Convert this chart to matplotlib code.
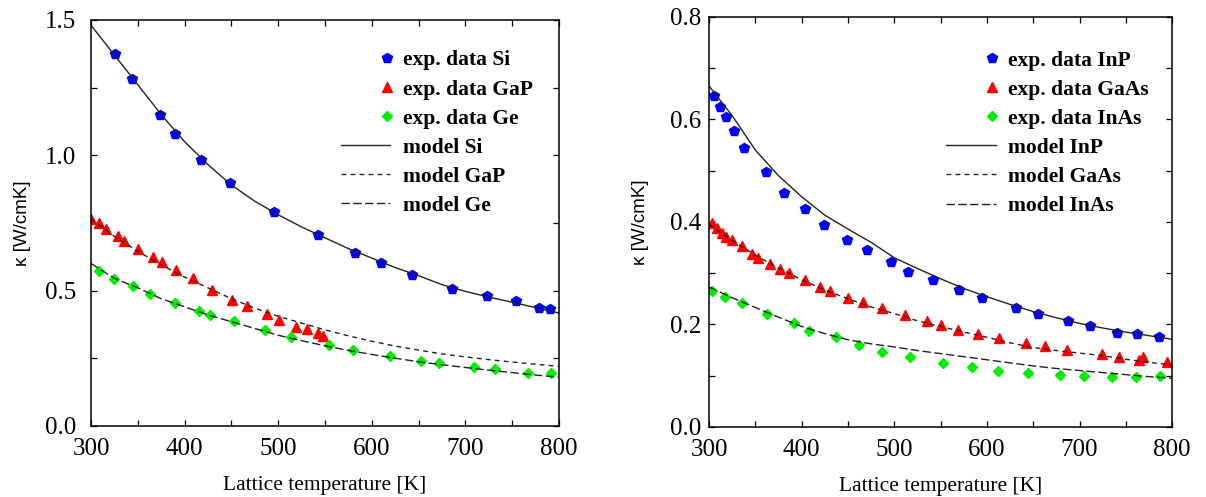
import numpy as np
import matplotlib.pyplot as plt
from matplotlib.legend_handler import HandlerLine2D
from matplotlib.ticker import MultipleLocator

plt.rcParams['font.family'] = 'serif'
plt.rcParams['font.serif'] = ['Liberation Serif', 'DejaVu Serif']

# ---- left panel: Si, GaP, Ge ----
si_T = [326, 344, 374, 390, 418, 449, 496, 542, 582, 610, 643, 686, 723, 754, 779, 790]
si_k = [1.374, 1.281, 1.150, 1.079, 0.984, 0.897, 0.790, 0.707, 0.640, 0.601, 0.556,
        0.504, 0.481, 0.460, 0.436, 0.433]

gap_T = [300, 308, 316, 329, 335, 350, 366, 376, 391, 409, 429, 451, 467, 488, 501,
         519, 531, 542, 548]
gap_k = [0.764, 0.749, 0.728, 0.703, 0.683, 0.654, 0.625, 0.607, 0.576, 0.548, 0.502,
         0.465, 0.443, 0.414, 0.392, 0.367, 0.357, 0.345, 0.332]

ge_T = [309, 325, 345, 363, 390, 415, 427, 453, 486, 514, 554, 580, 619, 653, 672,
        709, 732, 767, 792]
ge_k = [0.574, 0.543, 0.517, 0.488, 0.453, 0.425, 0.410, 0.388, 0.355, 0.330, 0.299,
        0.281, 0.260, 0.241, 0.234, 0.219, 0.209, 0.195, 0.194]

# ---- right panel: InP, GaAs, InAs ----
inp_T = [305, 312, 318, 327, 338, 361, 381, 403, 424, 449, 470, 496, 515, 542, 570,
         595, 631, 655, 687, 711, 740, 762, 786]
inp_k = [0.645, 0.625, 0.604, 0.578, 0.544, 0.497, 0.457, 0.425, 0.394, 0.365, 0.345,
         0.321, 0.303, 0.287, 0.267, 0.251, 0.233, 0.220, 0.207, 0.197, 0.184, 0.181,
         0.176]

gaas_T = [303, 309, 314, 318, 325, 335, 346, 353, 366, 377, 386, 403, 420, 431, 450,
          466, 487, 512, 535, 550, 569, 590, 613, 642, 663, 686, 724, 743, 764, 768,
          794]
gaas_k = [0.397, 0.388, 0.378, 0.370, 0.364, 0.353, 0.338, 0.329, 0.317, 0.308, 0.300,
          0.286, 0.273, 0.265, 0.251, 0.243, 0.232, 0.219, 0.206, 0.198, 0.189, 0.181,
          0.174, 0.163, 0.157, 0.150, 0.142, 0.137, 0.131, 0.137, 0.126]

inas_T = [303, 317, 335, 363, 392, 408, 437, 462, 487, 517, 552, 584, 612, 644, 679,
          705, 735, 761, 787]
inas_k = [0.266, 0.254, 0.241, 0.221, 0.202, 0.188, 0.175, 0.159, 0.146, 0.136, 0.124,
          0.116, 0.110, 0.106, 0.101, 0.0995, 0.097, 0.098, 0.0995]

model_T = [300, 325, 350, 375, 400, 425, 450, 475, 500, 525, 550, 575, 600, 625, 650,
           675, 700, 725, 750, 775, 800]
si_model = [1.48, 1.37, 1.26, 1.15, 1.05, 0.965, 0.89, 0.83, 0.78, 0.735, 0.695, 0.655,
            0.62, 0.585, 0.555, 0.522, 0.497, 0.476, 0.457, 0.437, 0.417]
gap_model = [0.765, 0.70, 0.645, 0.595, 0.55, 0.51, 0.47, 0.435, 0.405, 0.38, 0.355,
             0.333, 0.313, 0.295, 0.28, 0.266, 0.255, 0.245, 0.236, 0.228, 0.22]
ge_model = [0.60, 0.545, 0.51, 0.47, 0.44, 0.41, 0.385, 0.36, 0.335, 0.315, 0.296,
            0.279, 0.264, 0.25, 0.237, 0.226, 0.216, 0.206, 0.197, 0.188, 0.18]
inp_model = [0.665, 0.607, 0.54, 0.49, 0.449, 0.413, 0.386, 0.36, 0.33, 0.309, 0.289,
             0.27, 0.254, 0.239, 0.225, 0.213, 0.202, 0.193, 0.185, 0.178, 0.171]
gaas_model = [0.395, 0.364, 0.335, 0.31, 0.287, 0.267, 0.25, 0.234, 0.221, 0.207,
              0.196, 0.185, 0.175, 0.164, 0.155, 0.149, 0.144, 0.139, 0.132, 0.126,
              0.121]
inas_model = [0.273, 0.252, 0.233, 0.214, 0.196, 0.182, 0.170, 0.162, 0.156, 0.149,
              0.143, 0.137, 0.131, 0.125, 0.119, 0.114, 0.110, 0.106, 0.102, 0.098,
              0.095]


class MarkerAtEnd(HandlerLine2D):
    # gnuplot style: symbol sits at the right end of the key sample
    def get_xdata(self, legend, xdescent, ydescent, width, height, fontsize):
        x = np.array([-xdescent + width - 0.15 * fontsize])
        return x, x


def panel(ax, exp_sets, model_sets, ymax, ymaj, legend_anchor, ypad, ylabpad):
    colors = ['#0000ff', '#ff0000', '#00ee00']
    markers = ['p', '^', 'D']
    sizes = [7.5, 7, 5.5]
    for (T, k, name), c, m, s in zip(exp_sets, colors, markers, sizes):
        ax.plot(T, k, ls='none', marker=m, ms=s, color=c, mec=c,
                label='exp. data ' + name)
    styles = ['-', (0, (3.5, 3)), (0, (6, 2.5))]
    for (k, name), ls in zip(model_sets, styles):
        ax.plot(model_T, k, ls=ls, color='#222222', lw=1.0, label='model ' + name)

    ax.set_xlim(300, 800)
    ax.set_ylim(0, ymax)
    ax.xaxis.set_major_locator(MultipleLocator(100))
    ax.xaxis.set_minor_locator(MultipleLocator(50))
    ax.yaxis.set_major_locator(MultipleLocator(ymaj))
    ax.yaxis.set_minor_locator(MultipleLocator(ymaj / 2))
    ax.tick_params(which='both', direction='in', top=True, right=True,
                   length=4, width=0.9, labelsize=18)
    ax.tick_params(axis='x', pad=9)
    ax.tick_params(axis='y', pad=ypad)
    for sp in ax.spines.values():
        sp.set_linewidth(1.1)
    ax.yaxis.set_major_formatter(plt.FormatStrFormatter('%.1f'))
    ax.set_xlabel('Lattice temperature [K]', fontsize=15.5, labelpad=11)
    ax.set_ylabel('κ [W/cmK]', fontsize=13.5, family='Liberation Sans',
                  labelpad=ylabpad)

    handles, labels = ax.get_legend_handles_labels()
    hm = {h: MarkerAtEnd() for h in handles[:3]}
    ax.legend(handles, labels, loc='upper right', bbox_to_anchor=legend_anchor,
              frameon=False, borderaxespad=0, borderpad=0, handlelength=2.3,
              handletextpad=0.6, labelspacing=0.42, handler_map=hm,
              prop={'weight': 'bold', 'size': 15.5})


fig = plt.figure(figsize=(12.06, 4.97), dpi=100)
ax1 = fig.add_axes([0.0755, 0.143, 0.388, 0.817])
ax2 = fig.add_axes([0.588, 0.141, 0.384, 0.825])

panel(ax1,
      [(si_T, si_k, 'Si'), (gap_T, gap_k, 'GaP'), (ge_T, ge_k, 'Ge')],
      [(si_model, 'Si'), (gap_model, 'GaP'), (ge_model, 'Ge')],
      1.5, 0.5, (0.945, 0.925), 11, 10)
panel(ax2,
      [(inp_T, inp_k, 'InP'), (gaas_T, gaas_k, 'GaAs'), (inas_T, inas_k, 'InAs')],
      [(inp_model, 'InP'), (gaas_model, 'GaAs'), (inas_model, 'InAs')],
      0.8, 0.2, (0.95, 0.918), 6, 15)

fig.savefig('out.png', dpi=100)
